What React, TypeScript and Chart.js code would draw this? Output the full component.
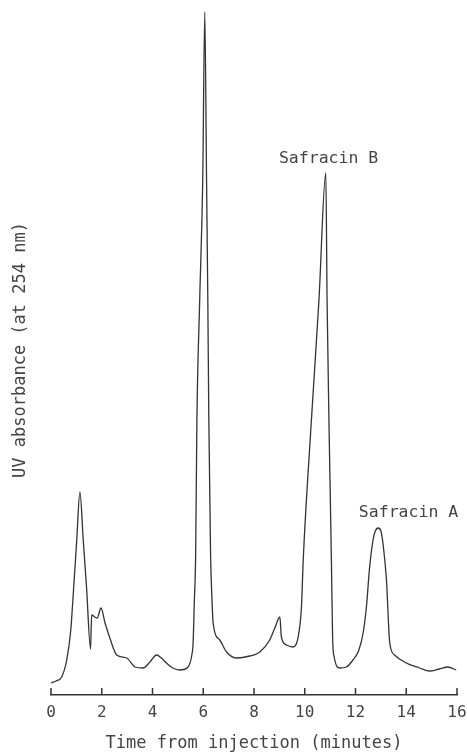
import React, { useEffect, useRef } from "react";
import { Chart, registerables } from "chart.js";

Chart.register(...registerables);

// Retention time (minutes)
const TIMES: number[] = [
  0.0, 0.2, 0.42, 0.62, 0.78, 0.88, 1.01, 1.14, 1.27, 1.4, 1.56, 1.6, 1.72, 1.82, 1.97,
  2.13, 2.32, 2.59, 2.98, 3.31, 3.63, 3.9, 4.16, 4.35, 4.55, 4.8, 5.08, 5.4, 5.55,
  5.6, 5.65, 5.7, 5.75, 5.86, 5.98, 6.06, 6.13, 6.18, 6.22, 6.29, 6.33, 6.39, 6.65,
  6.92, 7.31, 7.83, 8.23, 8.62, 8.82, 9.02, 9.08, 9.28, 9.54, 9.74, 9.87, 9.94, 10.25,
  10.56, 10.83, 10.88, 10.96, 11.05, 11.1, 11.16, 11.38, 11.64, 11.9, 12.12, 12.3,
  12.43, 12.55, 12.69, 12.78, 12.89, 13.0, 13.1, 13.22, 13.35, 13.54, 14.0, 14.53,
  14.92, 15.3, 15.64, 15.97,
];

// UV absorbance (arbitrary units)
const ABSORBANCE: number[] = [
  1.2, 1.4, 1.8, 3.5, 6.5, 10.2, 15.3, 20.3, 15.5, 10.8, 4.6, 8.0, 7.8, 7.7, 8.7,
  7.2, 5.7, 4.0, 3.7, 2.8, 2.7, 3.3, 4.0, 3.7, 3.2, 2.7, 2.5, 2.8, 4.0,
  5.2, 9.5, 13.9, 27.5, 39.5, 51.5, 68.3, 51.5, 39.5, 27.5, 13.9, 10.5, 7.2, 5.5,
  4.3, 3.7, 3.9, 4.3, 5.5, 6.7, 7.8, 5.8, 5.0, 4.8, 5.8, 8.8, 13.5, 27.0,
  39.5, 52.2, 39.5, 26.5, 13.5, 5.5, 3.8, 2.7, 2.8, 3.5, 4.4, 6.2,
  8.8, 12.6, 15.5, 16.4, 16.7, 16.4, 14.8, 11.5, 5.2, 4.0, 3.2, 2.7,
  2.4, 2.6, 2.8, 2.5,
];

const PEAK_LABELS: string[] = ["Safracin B", "Safracin A"];
const PEAK_LABEL_X: number[] = [10.94, 14.09];
const PEAK_LABEL_Y: number[] = [53.6, 18.2];

const X_MIN = 0;
const X_MAX = 16;
const X_STEP = 2;
const Y_MIN = 0;
const Y_MAX = 69;

const X_TITLE = "Time from injection (minutes)";
const Y_TITLE = "UV absorbance (at 254 nm)";

const FONT_FAMILY = "'DejaVu Sans Mono', 'Liberation Mono', monospace";
const INK = "#333333";
const TEXT = "#444444";

export default function App() {
  const canvasRef = useRef<HTMLCanvasElement | null>(null);

  useEffect(() => {
    if (!canvasRef.current) return;

    const upTicks = {
      id: "upTicks",
      afterDraw(chart: any) {
        const xs = chart.scales.x;
        const ctx = chart.ctx;
        ctx.save();
        ctx.strokeStyle = INK;
        ctx.lineWidth = 1.5;
        xs.ticks.forEach((t: any) => {
          const px = xs.getPixelForValue(t.value);
          ctx.beginPath();
          ctx.moveTo(px, xs.top);
          ctx.lineTo(px, xs.top - 7);
          ctx.stroke();
        });
        ctx.restore();
      },
    };

    const peakLabels = {
      id: "peakLabels",
      afterDatasetsDraw(chart: any) {
        const xs = chart.scales.x;
        const ys = chart.scales.y;
        const ctx = chart.ctx;
        ctx.save();
        ctx.fillStyle = TEXT;
        ctx.font = `16.5px ${FONT_FAMILY}`;
        ctx.textAlign = "center";
        ctx.textBaseline = "middle";
        PEAK_LABELS.forEach((lbl, i) => {
          ctx.fillText(lbl, xs.getPixelForValue(PEAK_LABEL_X[i]), ys.getPixelForValue(PEAK_LABEL_Y[i]));
        });
        ctx.restore();
      },
    };

    const chart = new Chart(canvasRef.current, {
      type: "line",
      data: {
        datasets: [
          {
            data: TIMES.map((t, i) => ({ x: t, y: ABSORBANCE[i] })),
            borderColor: INK,
            borderWidth: 1.3,
            pointRadius: 0,
            fill: false,
            cubicInterpolationMode: "monotone",
          },
        ],
      },
      options: {
        animation: false,
        responsive: true,
        maintainAspectRatio: false,
        layout: { padding: { top: 5, right: 0, left: 0, bottom: 0 } },
        plugins: {
          legend: { display: false },
          tooltip: { enabled: false },
        },
        scales: {
          x: {
            type: "linear",
            position: "bottom",
            min: X_MIN,
            max: X_MAX,
            grid: { display: false, drawTicks: false },
            border: { display: true, color: INK, width: 1.5 },
            ticks: {
              stepSize: X_STEP,
              padding: 8,
              color: TEXT,
              font: { family: FONT_FAMILY, size: 16 },
              maxRotation: 0,
              callback: (v: any) => String(v),
            },
            title: {
              display: true,
              text: X_TITLE,
              color: TEXT,
              font: { family: FONT_FAMILY, size: 17 },
              padding: { top: 0, bottom: 0 },
            },
            afterFit: (s: any) => {
              s.height = 59;
              s.paddingLeft = 0;
              s.paddingRight = 10;
            },
          },
          y: {
            type: "linear",
            min: Y_MIN,
            max: Y_MAX,
            grid: { display: false, drawTicks: false },
            border: { display: false },
            ticks: { display: false },
            title: {
              display: true,
              text: Y_TITLE,
              color: TEXT,
              font: { family: FONT_FAMILY, size: 17 },
              padding: { top: 10, bottom: 10 },
            },
            afterFit: (s: any) => {
              s.width = 51;
            },
          },
        },
      },
      plugins: [upTicks, peakLabels],
    } as any);

    return () => chart.destroy();
  }, []);

  return (
    <div style={{ position: "fixed", left: 0, top: 0, width: 467, height: 754, background: "#fff" }}>
      <canvas ref={canvasRef} />
    </div>
  );
}
